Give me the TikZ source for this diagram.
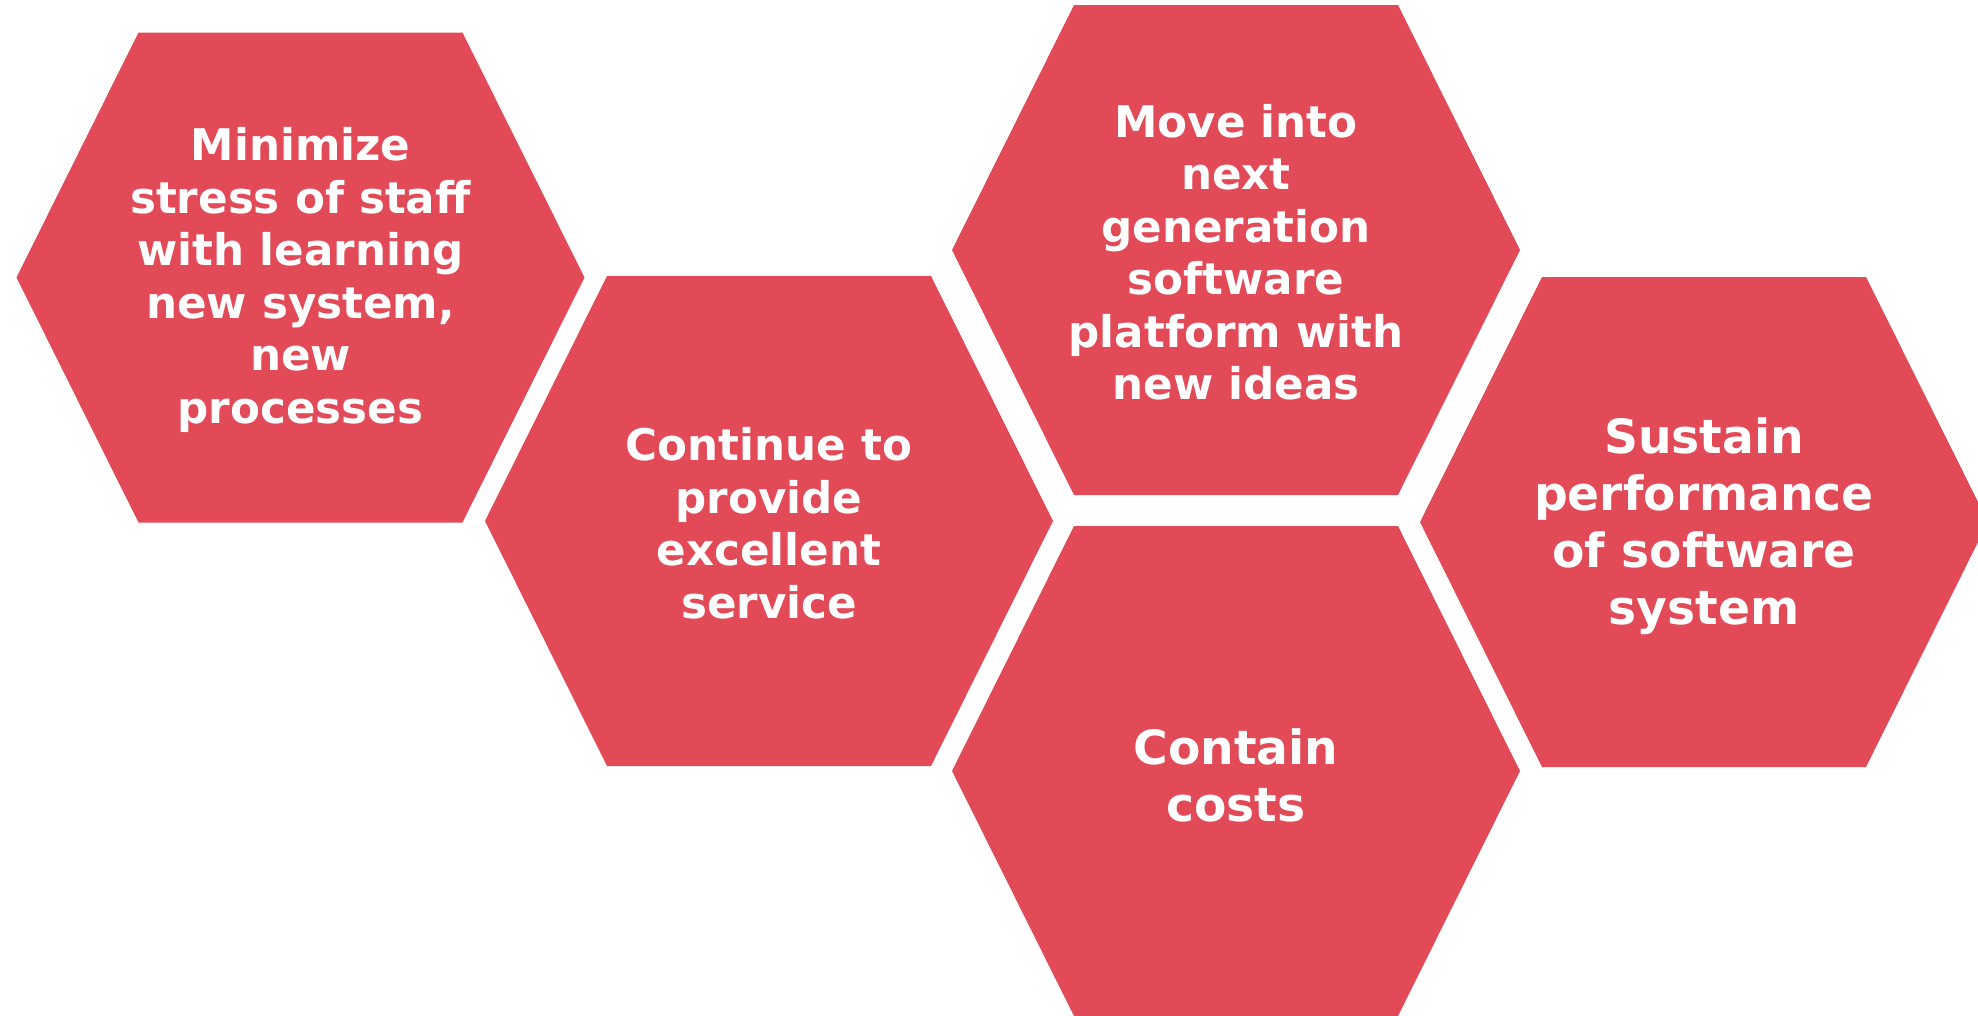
\documentclass[tikz,border=0pt]{standalone}
\usepackage{fontspec}
\setmainfont{DejaVu Sans}
\usepackage{tikz}

\definecolor{hexred}{RGB}{225,74,86}

\tikzset{
  hexfill/.style={fill=hexred},
  hextext/.style={text=white, align=center, font=\bfseries\fontsize{43.6}{52.5}\selectfont, inner sep=0pt},
  hexbig/.style={hextext, font=\bfseries\fontsize{47.2}{57}\selectfont}
}

% flat-topped cell round a centre point
\newcommand{\hexcell}[1]{%
  \fill[hexfill] (#1) ++(-284,0) -- ++(122,-245) -- ++(324,0) -- ++(122,245) -- ++(-122,245) -- ++(-324,0) -- cycle;}

\begin{document}
\begin{tikzpicture}[x=1pt,y=1pt,yscale=-1,xscale=1]
\useasboundingbox (0,0) rectangle (1978,1015);

%Shape: Hexagon cells
\hexcell{300.5,277.5}
\hexcell{769,521}
\hexcell{1236,250}
\hexcell{1236,771}
\hexcell{1704,522}

% Text Node
\node[hextext] (minimize) at (300.5,280) {Minimize\\stress of staff\\with learning\\new system,\\new\\processes};
% Text Node
\node[hextext] (service) at (769,523) {Continue to\\provide\\excellent\\service};
% Text Node
\node[hextext] (nextgen) at (1236,252) {Move into\\next\\generation\\software\\platform with\\new ideas};
% Text Node
\node[hexbig] (costs) at (1236,775) {Contain\\costs};
% Text Node
\node[hexbig] (sustain) at (1704,526) {Sustain\\performance\\of software\\system};

\end{tikzpicture}
\end{document}
